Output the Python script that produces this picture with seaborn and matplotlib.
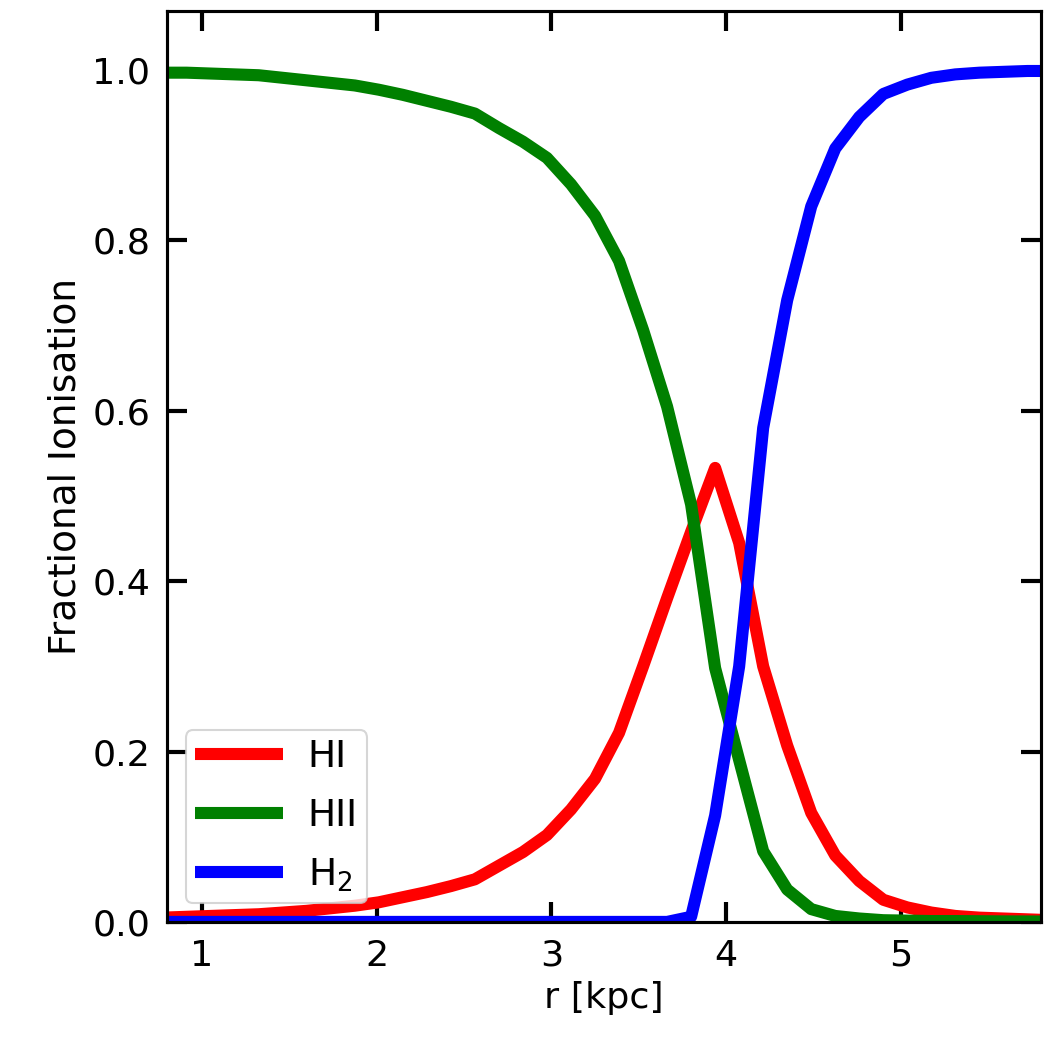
import numpy as np
import pandas as pd
import matplotlib
matplotlib.use("Agg")
import matplotlib.pyplot as plt
import seaborn as sns

r_kpc = [0.775, 0.9125, 1.05, 1.1875, 1.325, 1.4625, 1.6, 1.7375, 1.875, 2.0125,
         2.15, 2.2875, 2.425, 2.5625, 2.7, 2.8375, 2.975, 3.1125, 3.25, 3.3875,
         3.525, 3.6625, 3.8, 3.9375, 4.075, 4.2125, 4.35, 4.4875, 4.625, 4.7625,
         4.9, 5.0375, 5.175, 5.3125, 5.45, 5.5875, 5.725, 5.8625]

hi_frac = [0.005, 0.006, 0.007, 0.008, 0.009, 0.011, 0.013, 0.016, 0.019, 0.023,
           0.029, 0.035, 0.042, 0.050, 0.066, 0.082, 0.102, 0.132, 0.168, 0.222,
           0.300, 0.380, 0.458, 0.533, 0.445, 0.300, 0.207, 0.128, 0.078, 0.048,
           0.026, 0.017, 0.011, 0.007, 0.005, 0.004, 0.003, 0.002]

hii_frac = [0.997, 0.997, 0.996, 0.995, 0.994, 0.991, 0.988, 0.985, 0.982, 0.977,
            0.971, 0.964, 0.957, 0.949, 0.932, 0.916, 0.897, 0.866, 0.829, 0.776,
            0.695, 0.605, 0.490, 0.298, 0.190, 0.083, 0.038, 0.015, 0.007, 0.004,
            0.002, 0.0015, 0.001, 0.001, 0.0008, 0.0006, 0.0005, 0.0004]

h2_frac = [0.0, 0.0, 0.0, 0.0, 0.0, 0.0, 0.0, 0.0, 0.0, 0.0,
           0.0, 0.0, 0.0, 0.0, 0.0, 0.0, 0.0, 0.0, 0.0, 0.0,
           0.0, 0.0, 0.006, 0.125, 0.300, 0.580, 0.730, 0.840, 0.908, 0.945,
           0.972, 0.983, 0.991, 0.995, 0.997, 0.998, 0.999, 0.999]

species = ["HI", "HII", "H$_2$"]
colors = ["red", "green", "blue"]

x_ticks = [1, 2, 3, 4, 5]
y_ticks = [0.0, 0.2, 0.4, 0.6, 0.8, 1.0]

df = pd.concat([
    pd.DataFrame({"r": r_kpc, "frac": vals, "species": name})
    for name, vals in zip(species, [hi_frac, hii_frac, h2_frac])
], ignore_index=True)

sns.set_theme(style="ticks")
plt.rcParams["font.family"] = ["DejaVu Sans"]
plt.rcParams["text.color"] = "black"
plt.rcParams["axes.labelcolor"] = "black"
plt.rcParams["xtick.color"] = "black"
plt.rcParams["ytick.color"] = "black"

fig = plt.figure(figsize=(7, 7), dpi=150)
ax = fig.add_axes([0.159, 0.122, 0.832, 0.868])

sns.lineplot(data=df, x="r", y="frac", hue="species", hue_order=species,
             palette=dict(zip(species, colors)), linewidth=5.8, ax=ax,
             estimator=None, sort=True)

ax.set_xlim(0.8, 5.8)
ax.set_ylim(0.0, 1.07)
ax.set_xticks(x_ticks)
ax.set_yticks(y_ticks)
ax.set_xticklabels([str(v) for v in x_ticks])
ax.set_yticklabels([f"{v:.1f}" for v in y_ticks])
ax.set_xlabel("r [kpc]", fontsize=17.5, color="black")
ax.set_ylabel("Fractional Ionisation", fontsize=18, color="black")

for s in ax.spines.values():
    s.set_visible(True)
    s.set_linewidth(1.5)
    s.set_color("black")

ax.tick_params(axis="both", which="major", direction="in", length=9.5, width=2,
               labelsize=17.5, top=True, right=True, color="black",
               labelcolor="black", pad=8)
ax.minorticks_off()

leg = ax.legend(loc="lower left", fontsize=18, frameon=True, handlelength=2.35,
                borderpad=0.25, labelspacing=0.6, handletextpad=0.65)
for line in leg.get_lines():
    line.set_linewidth(5.8)
    line.set_solid_capstyle("butt")
for t in leg.get_texts():
    t.set_color("black")

fig.savefig("out.png", dpi=150)
